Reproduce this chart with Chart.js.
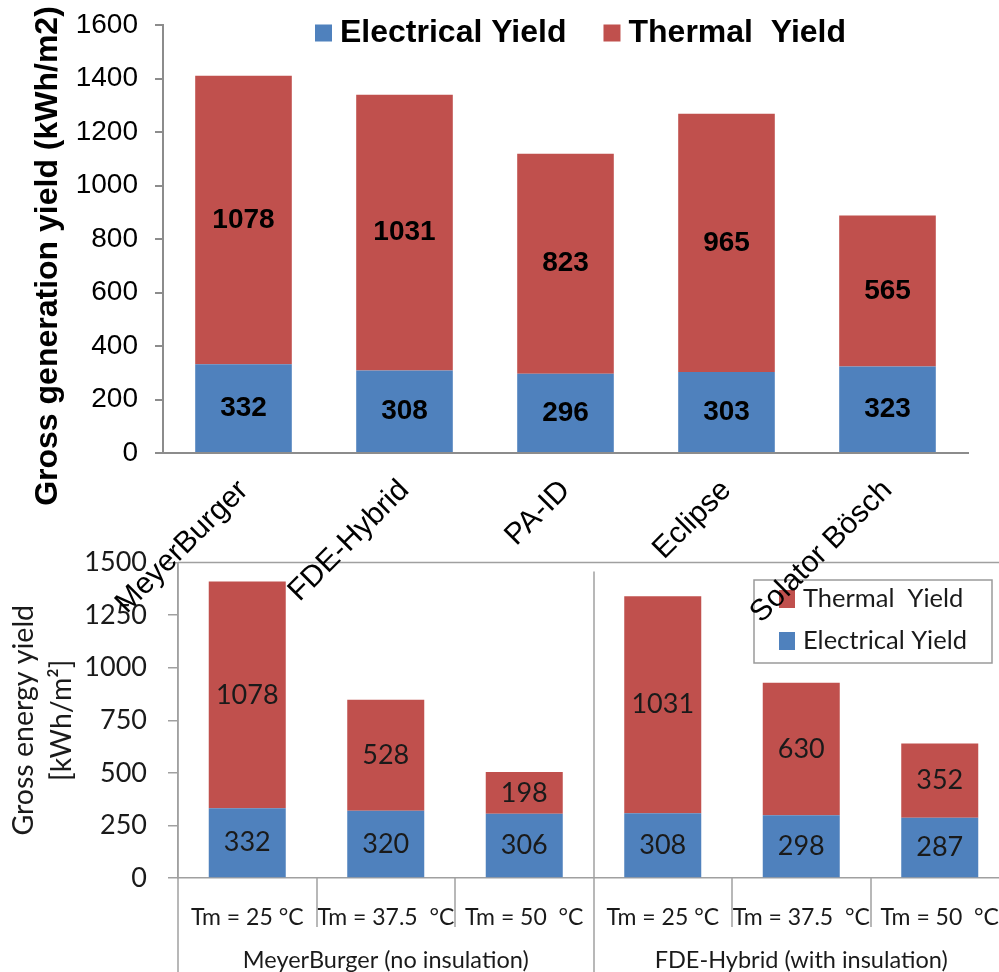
<!DOCTYPE html>
<html><head><meta charset="utf-8">
<script src="https://cdn.jsdelivr.net/npm/chart.js@4.4.1/dist/chart.umd.min.js"></script>
<style>
html,body{margin:0;padding:0;background:#fff;overflow:hidden;}
#wrap{position:relative;width:999px;height:972px;overflow:hidden;background:#fff;}
#c2{position:absolute;left:0;top:540px;}
#c1{position:absolute;left:0;top:0;z-index:2;}
</style></head><body>
<div id="wrap"><canvas id="c2" width="1020" height="432"></canvas><canvas id="c1" width="999" height="660"></canvas></div>
<script>
// ---- data: top chart ----
const topCategories = ['MeyerBurger', 'FDE-Hybrid', 'PA-ID', 'Eclipse', 'Solator Bösch'];
const topElectrical = [332, 308, 296, 303, 323];
const topThermal = [1078, 1031, 823, 965, 565];
const topYTitle = 'Gross generation yield (kWh/m2)';
// ---- data: bottom chart ----
const bottomCategories = ['Tm = 25 °C', 'Tm = 37.5  °C', 'Tm = 50  °C', 'Tm = 25 °C', 'Tm = 37.5  °C', 'Tm = 50  °C'];
const bottomElectrical = [332, 320, 306, 308, 298, 287];
const bottomThermal = [1078, 528, 198, 1031, 630, 352];
const bottomGroups = ['MeyerBurger (no insulation)', 'FDE-Hybrid (with insulation)'];
const bottomGroupSizes = [3, 3];
const bottomYTitle = ['Gross energy yield', '[kWh/m²]'];

const BLUE = '#4F81BD', RED = '#C0504D';
const ARIAL = '"Liberation Sans", Arial, sans-serif';
const CAL = 'Lato, "Open Sans", sans-serif';

const segmentLabels = {
  id: 'segmentLabels',
  afterDatasetsDraw(chart, args, o) {
    const ctx = chart.ctx;
    ctx.save();
    ctx.font = o.font; ctx.fillStyle = o.color;
    ctx.textAlign = 'center'; ctx.textBaseline = 'middle';
    chart.data.datasets.forEach((ds, i) => {
      chart.getDatasetMeta(i).data.forEach((el, j) => {
        const p = el.getProps(['x', 'y', 'base'], true);
        ctx.fillText(String(ds.data[j]), p.x, (p.y + p.base) / 2 + (o.dy || 0));
      });
    });
    ctx.restore();
  }
};

const boxLegend = {
  id: 'boxLegend',
  afterDraw(chart, args, o) {
    const ctx = chart.ctx;
    ctx.save();
    if (o.frame) {
      ctx.strokeStyle = o.frame.color; ctx.lineWidth = o.frame.width;
      ctx.strokeRect(o.frame.x, o.frame.y, o.frame.w, o.frame.h);
    }
    ctx.font = o.font; ctx.textBaseline = 'middle'; ctx.textAlign = 'left';
    const items = chart.data.datasets.map(d => ({ label: d.label, color: d.backgroundColor }));
    if (o.reverse) items.reverse();
    let x = o.x, y = o.y;
    items.forEach(it => {
      ctx.fillStyle = it.color;
      ctx.fillRect(x, y - o.boxH / 2, o.boxW, o.boxH);
      ctx.fillStyle = o.color;
      ctx.fillText(it.label, x + o.boxW + o.gap, y);
      if (o.vertical) y += o.step;
      else x += o.boxW + o.gap + ctx.measureText(it.label).width + o.itemGap;
    });
    ctx.restore();
  }
};

const sideTitle = {
  id: 'sideTitle',
  afterDraw(chart, args, o) {
    const ctx = chart.ctx;
    ctx.save();
    ctx.font = o.font; ctx.fillStyle = o.color;
    ctx.textAlign = 'center'; ctx.textBaseline = 'middle';
    ctx.translate(o.x, o.y);
    ctx.rotate(-Math.PI / 2);
    ctx.fillText(o.text, 0, 0);
    ctx.restore();
  }
};

const groupAxis = {
  id: 'groupAxis',
  afterDraw(chart, args, o) {
    const { ctx, chartArea: { left, top, bottom } } = chart;
    const x = chart.scales.x;
    const n = chart.data.labels.length;
    const cell = x.getPixelForValue(1) - x.getPixelForValue(0);
    const starts = []; let acc = 0;
    bottomGroupSizes.forEach(s => { starts.push(acc); acc += s; });
    ctx.save();
    ctx.strokeStyle = o.color; ctx.lineWidth = o.width;
    ctx.beginPath(); ctx.moveTo(left, top); ctx.lineTo(chart.width, top); ctx.stroke();
    for (let i = 0; i <= n; i++) {
      const px = Math.round(x.getPixelForValue(Math.min(i, n - 1)) + (i < n ? -cell / 2 : cell / 2));
      ctx.beginPath();
      if (i === 0) { ctx.moveTo(px, top); ctx.lineTo(px, chart.height); }
      else if (starts.includes(i)) { ctx.moveTo(px, top + o.dividerGap); ctx.lineTo(px, chart.height); }
      else { ctx.moveTo(px, bottom); ctx.lineTo(px, bottom + o.sepLen); }
      ctx.stroke();
    }
    ctx.font = o.font; ctx.fillStyle = o.textColor;
    ctx.textAlign = 'center'; ctx.textBaseline = 'middle';
    bottomGroups.forEach((g, k) => {
      const a = x.getPixelForValue(starts[k]);
      const b = x.getPixelForValue(starts[k] + bottomGroupSizes[k] - 1);
      ctx.fillText(g, (a + b) / 2, bottom + o.labelOffset);
    });
    ctx.restore();
  }
};

const plain = v => String(v);

function build() {
  // ---------- bottom chart ----------
  new Chart(document.getElementById('c2'), {
    type: 'bar',
    data: {
      labels: bottomCategories,
      datasets: [
        { label: 'Electrical Yield', data: bottomElectrical, backgroundColor: BLUE, barPercentage: 0.556, categoryPercentage: 1 },
        { label: 'Thermal  Yield', data: bottomThermal, backgroundColor: RED, barPercentage: 0.556, categoryPercentage: 1 }
      ]
    },
    plugins: [segmentLabels, boxLegend, groupAxis],
    options: {
      responsive: false, animation: false, devicePixelRatio: 1,
      layout: { padding: { top: 22.5, right: 11, left: 0, bottom: 0 } },
      plugins: {
        legend: { display: false }, tooltip: { enabled: false },
        segmentLabels: { font: '27px ' + CAL, color: '#1a1a1a', dy: 0 },
        boxLegend: {
          frame: { x: 754, y: 40, w: 238, h: 83, color: '#9a9a9a', width: 1.5 },
          reverse: true, vertical: true, x: 779, y: 59, step: 42, boxW: 16, boxH: 18, gap: 8,
          font: '25.5px ' + CAL, color: '#1a1a1a'
        },
        groupAxis: { color: '#a0a0a0', width: 1.5, dividerGap: 9, sepLen: 49, font: '23.5px ' + CAL, textColor: '#1a1a1a', labelOffset: 82 }
      },
      scales: {
        x: {
          stacked: true,
          grid: { display: false },
          border: { display: true, color: '#a0a0a0', width: 1.5 },
          ticks: { font: { family: CAL, size: 23 }, color: '#1a1a1a', padding: 18, maxRotation: 0, minRotation: 0, autoSkip: false },
          afterFit(s) { s.height = 94; }
        },
        y: {
          stacked: true, min: 0, max: 1500,
          ticks: { stepSize: 250, font: { family: CAL, size: 27 }, color: '#1a1a1a', padding: 21, callback: plain },
          grid: { drawOnChartArea: false, drawTicks: true, tickLength: 10, color: '#a0a0a0', lineWidth: 1.5 },
          border: { color: '#a0a0a0', width: 1.5 },
          title: { display: true, text: bottomYTitle, color: '#1a1a1a', font: { family: CAL, size: 28.5, lineHeight: 1.33 }, padding: { top: 5, bottom: 0 } },
          afterFit(s) { s.width = 178; s.paddingTop = 0; s.paddingBottom = 0; }
        }
      }
    }
  });

  // ---------- top chart ----------
  new Chart(document.getElementById('c1'), {
    type: 'bar',
    data: {
      labels: topCategories,
      datasets: [
        { label: 'Electrical Yield', data: topElectrical, backgroundColor: BLUE, barPercentage: 0.6, categoryPercentage: 1 },
        { label: 'Thermal  Yield', data: topThermal, backgroundColor: RED, barPercentage: 0.6, categoryPercentage: 1 }
      ]
    },
    plugins: [segmentLabels, boxLegend, sideTitle],
    options: {
      responsive: false, animation: false, devicePixelRatio: 1,
      layout: { padding: { top: 25, right: 31, left: 0, bottom: 0 } },
      plugins: {
        legend: { display: false }, tooltip: { enabled: false },
        segmentLabels: { font: 'bold 28px ' + ARIAL, color: '#000', dy: 0 },
        boxLegend: { x: 315, y: 33, boxW: 17, boxH: 17, gap: 8, itemGap: 37, font: 'bold 32px ' + ARIAL, color: '#000' },
        sideTitle: { text: topYTitle, x: 48, y: 256, font: 'bold 32px ' + ARIAL, color: '#000' }
      },
      scales: {
        x: {
          stacked: true,
          grid: { display: false },
          border: { display: true, color: '#8c8c8c', width: 2 },
          ticks: { font: { family: ARIAL, size: 30 }, color: '#000', minRotation: 45, maxRotation: 45, padding: 12, autoSkip: false },
          afterFit(s) { s.height = 207; }
        },
        y: {
          stacked: true, min: 0, max: 1600,
          ticks: { stepSize: 200, font: { family: ARIAL, size: 28 }, color: '#000', padding: 17, callback: plain },
          grid: { drawOnChartArea: false, drawTicks: true, tickLength: 8, color: '#8c8c8c', lineWidth: 2 },
          border: { color: '#8c8c8c', width: 2 },
          afterFit(s) { s.width = 163; s.paddingTop = 0; s.paddingBottom = 0; }
        }
      }
    }
  });
}

const fontsReady = (document.fonts && document.fonts.load)
  ? Promise.all([document.fonts.load('27px Lato'), document.fonts.load('bold 28px "Liberation Sans"'), document.fonts.load('28px "Liberation Sans"')]).catch(() => {})
  : Promise.resolve();
Promise.race([fontsReady, new Promise(r => setTimeout(r, 800))]).then(build);
</script>
</body></html>
